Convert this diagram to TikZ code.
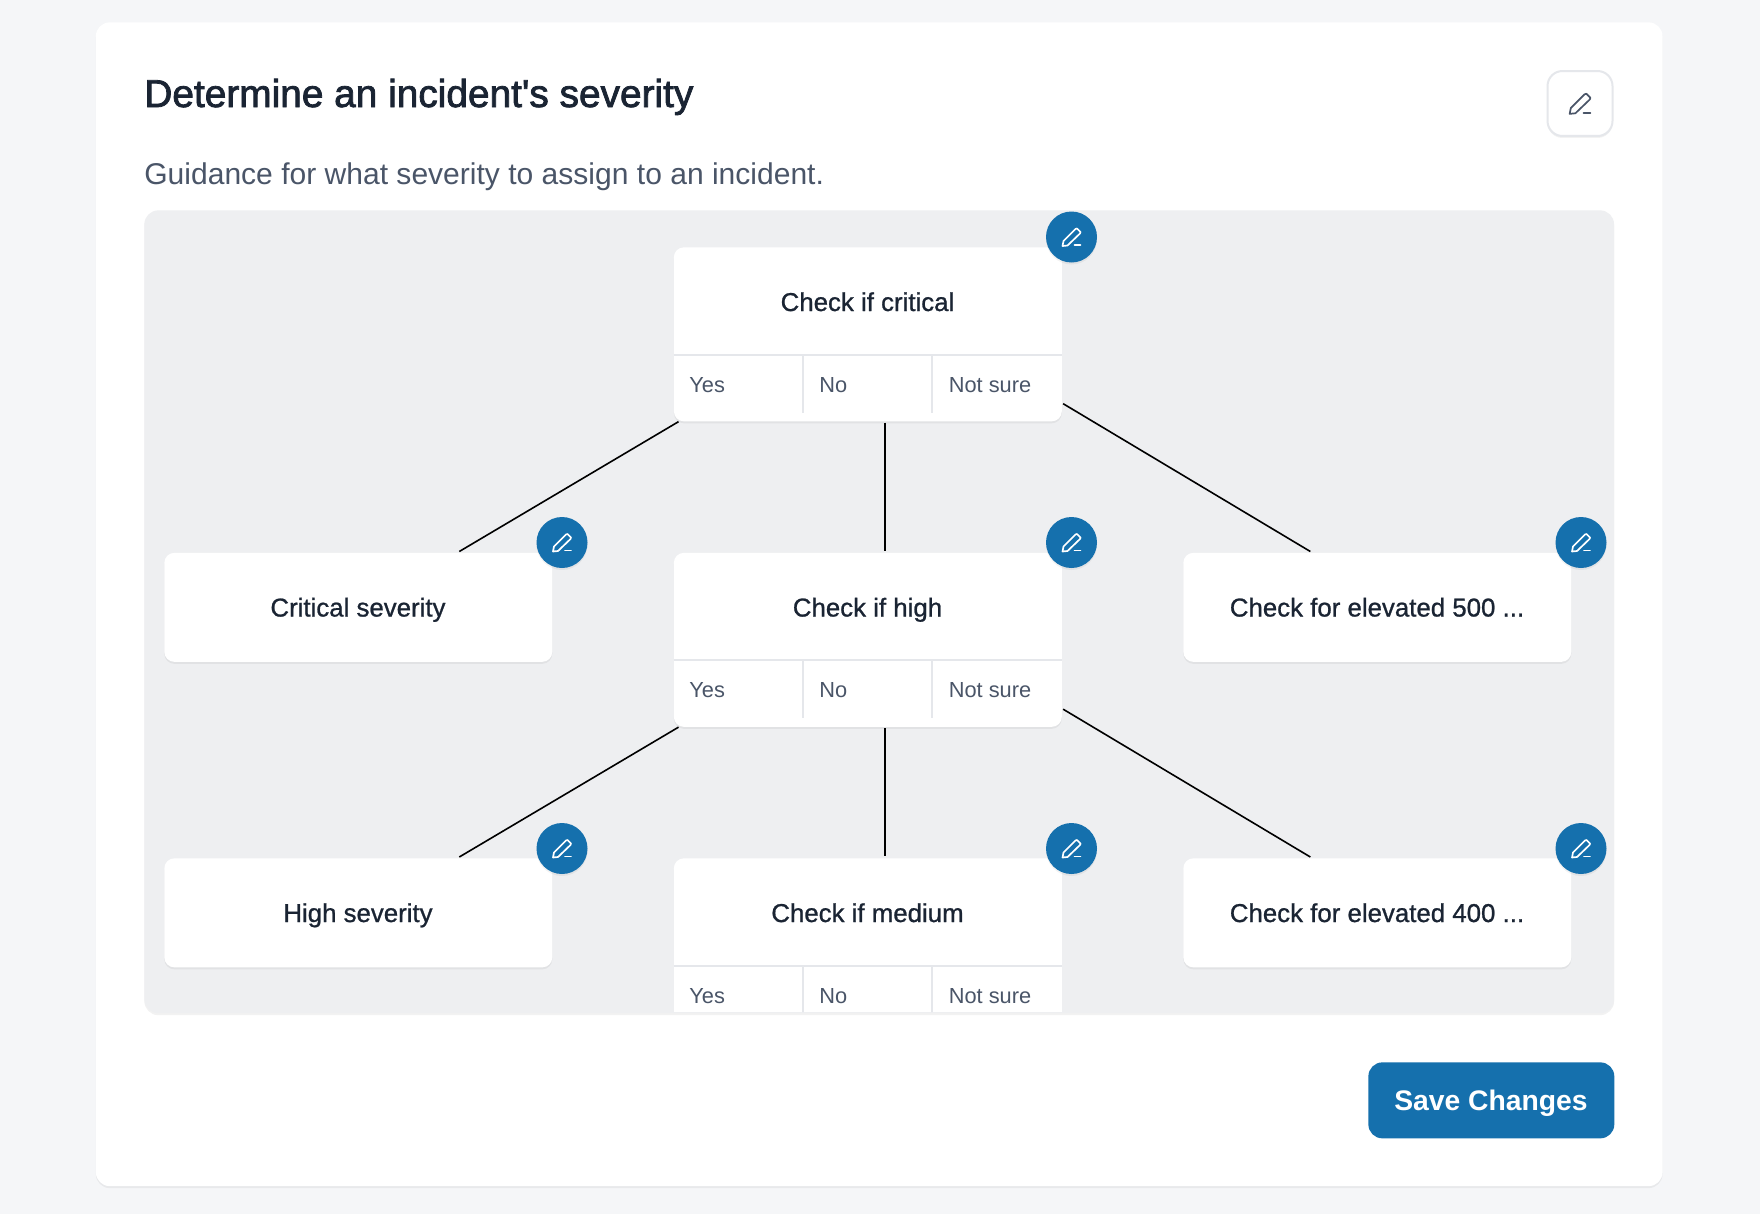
\documentclass[tikz,border=0pt]{standalone}
\usepackage{fontspec}
\setmainfont{Liberation Sans}
\newfontfamily\medfont[FakeBold=.9]{Liberation Sans}
\newfontfamily\headfont[FakeBold=2]{Liberation Sans}
\usetikzlibrary{shadows}
\definecolor{pagebg}{HTML}{F5F6F8}
\definecolor{panelbg}{HTML}{EEEFF1}
\definecolor{inkdark}{HTML}{1A2433}
\definecolor{inkgray}{HTML}{4A5568}
\definecolor{rulegray}{HTML}{E5E7EB}
\definecolor{btnblue}{HTML}{1570AD}
\tikzset{
    softshadow/.style={drop shadow={shadow xshift=0cm,shadow yshift=-.04cm,opacity=.05,fill=black}},
    qbox/.style={fill=white,rounded corners=.2cm,anchor=north west,minimum width=7.76cm,minimum height=3.48cm,inner sep=0,softshadow},
    leafbox/.style={fill=white,rounded corners=.2cm,anchor=north west,minimum width=7.76cm,minimum height=2.18cm,inner sep=0,softshadow},
    boxtext/.style={text=inkdark,inner sep=0,anchor=base,font=\medfont\fontsize{14.7pt}{16pt}\selectfont},
    ans/.style={text=inkgray,inner sep=0,anchor=base west,font=\fontsize{12.4pt}{14pt}\selectfont},
    rulegrid/.style={rulegray,line width=.04cm},
    link/.style={black,line width=.032cm},
    penbtn/.style={circle,fill=btnblue,minimum size=1.02cm,inner sep=0,softshadow},
    pics/penicon/.style={code={
        \draw[line width=.034cm,line join=round,line cap=round] (-9,9) -- (-8,4) -- (4,-8) -- (5.5,-8.5) -- (9,-5) -- (8.5,-3.5) -- (-4,8.5) -- cycle;
        \draw[line width=.034cm,line cap=round] (3,8) -- (9,8);
    }}
}
\begin{document}
\begin{tikzpicture}[x=.02cm,y=-.02cm]
\fill[pagebg] (0,0) rectangle (1760,1214);
\useasboundingbox (0,0) rectangle (1760,1214);
\node[fill=white,rounded corners=.28cm,anchor=north west,minimum width=31.34cm,minimum height=23.28cm,inner sep=0,softshadow] (card) at (95.5,22) {};
\node[text=inkdark,anchor=base west,inner sep=0,font=\headfont\fontsize{22.1pt}{24pt}\selectfont] (heading) at (144,107) {Determine an incident's severity};
\node[text=inkgray,anchor=base west,inner sep=0,font=\fontsize{17.1pt}{20pt}\selectfont] (subheading) at (144,184.5) {Guidance for what severity to assign to an incident.};
\node[fill=white,draw=rulegray,line width=.04cm,rounded corners=.3cm,minimum size=1.3cm,inner sep=0,softshadow] (editmain) at (1580,103.5) {};
\pic[inkgray,scale=1.15] at (editmain) {penicon};
\node[fill=panelbg,rounded corners=.28cm,anchor=north west,minimum width=29.4cm,minimum height=16.06cm,inner sep=0,softshadow] (panel) at (144,210) {};
\begin{scope}
\clip[rounded corners=.28cm] (144,210) rectangle (1614,1012);
\foreach \n/\yy/\ttl in {1/247/Check if critical,2/552.5/Check if high,3/858/Check if medium}
{
    \node[qbox] (q\n) at (673.5,\yy) {};
    \node[boxtext] (qt\n) at (867.5,\yy+64) {\ttl};
    \draw[rulegrid] ([yshift=-2.16cm]q\n.north west) -- ([yshift=-2.16cm]q\n.north east);
    \draw[rulegrid] ([shift={(2.6cm,-2.16cm)}]q\n.north west) -- ++(0,58);
    \draw[rulegrid] ([shift={(5.18cm,-2.16cm)}]q\n.north west) -- ++(0,58);
    \node[ans] (yes\n) at (689,\yy+145) {Yes};
    \node[ans] (no\n) at (819,\yy+145) {No};
    \node[ans] (ns\n) at (948.5,\yy+145) {Not sure};
}
\node[leafbox] (crit) at (164,552.5) {};
\node[boxtext] (critt) at (358,616.5) {Critical severity};
\node[leafbox] (el5) at (1183,552.5) {};
\node[boxtext] (el5t) at (1377,616.5) {Check for elevated 500 ...};
\node[leafbox] (high) at (164,858) {};
\node[boxtext] (hight) at (358,922) {High severity};
\node[leafbox] (el4) at (1183,858) {};
\node[boxtext] (el4t) at (1377,922) {Check for elevated 400 ...};
\foreach \a/\b/\c/\d in {q1/crit/q2/el5,q2/high/q3/el4}
{
    \draw[link] ([xshift=.1cm]\a.south west) -- ([shift={(2.02cm,.02cm)}]\b.north);
    \draw[link] ([shift={(.34cm,-.02cm)}]\a.south) -- ([shift={(.34cm,.04cm)}]\c.north);
    \draw[link] ([shift={(.02cm,.36cm)}]\a.south east) -- ([shift={(-1.34cm,.02cm)}]\d.north);
}
\foreach \m/\x/\y in {a/1071.5/237,b/562/542.5,c/1071.5/542.5,d/1581/542.5,e/562/848.5,f/1071.5/848.5,g/1581/848.5}
{
    \node[penbtn] (pen\m) at (\x,\y) {};
    \pic[white] at (pen\m) {penicon};
}
\end{scope}
\node[fill=btnblue,rounded corners=.28cm,anchor=north west,minimum width=4.92cm,minimum height=1.52cm,inner sep=0] (save) at (1368,1062) {};
\node[text=white,anchor=base,inner sep=0,font=\bfseries\fontsize{16.1pt}{18pt}\selectfont] (savet) at (1491,1110) {Save Changes};
\end{tikzpicture}
\end{document}
